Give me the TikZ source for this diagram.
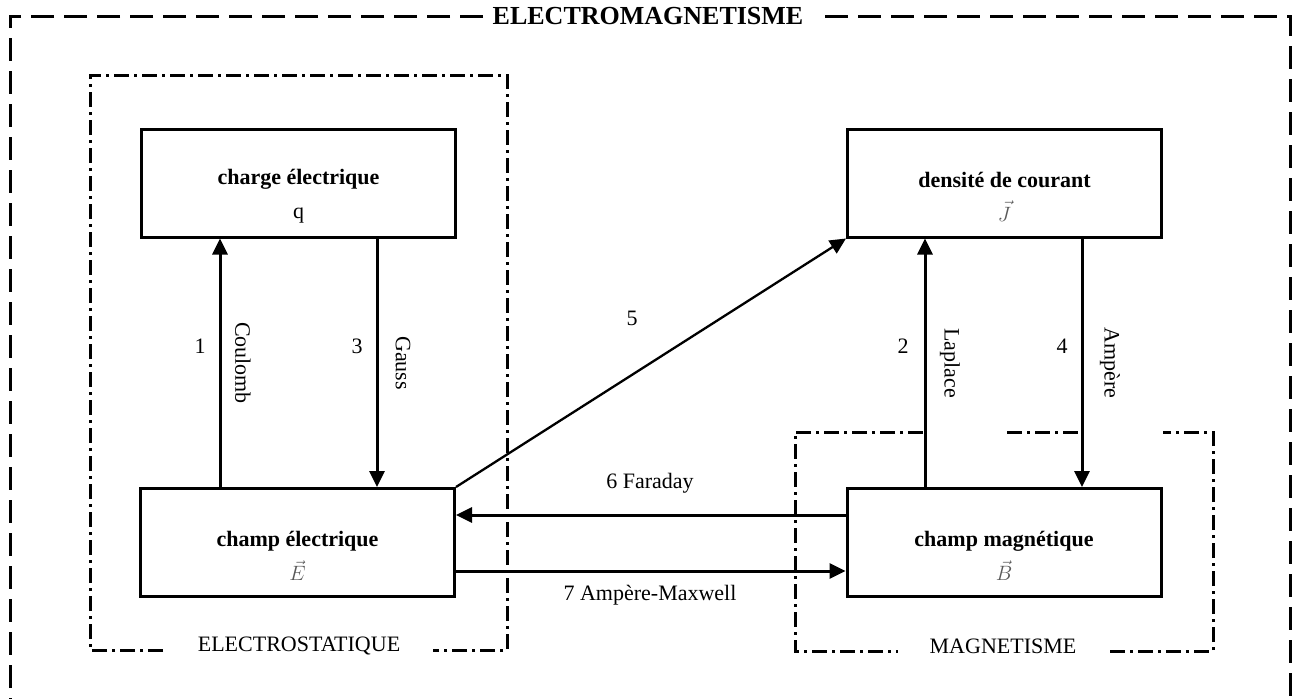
\documentclass[tikz,border=0pt]{standalone}
\usepackage{fontspec}
\setmainfont{Liberation Serif}
\usetikzlibrary{arrows.meta,calc}
\newcommand{\toppad}{\rule{0pt}{42pt}}
\begin{document}
\begin{tikzpicture}[x=1pt,y=-1pt,
  box/.style={draw,line width=3pt,minimum width=314pt,minimum height=108pt,align=center,
    font=\bfseries\fontsize{22}{30}\selectfont,inner sep=0pt},
  arr/.style={line width=3pt,-{Triangle[width=15pt,length=16pt]}},
  thinarr/.style={line width=2.3pt,-{Triangle[width=15pt,length=16pt]}},
  lbl/.style={font=\fontsize{22}{26}\selectfont,inner sep=0pt},
  ttl/.style={font=\bfseries\fontsize{26}{30}\selectfont,inner sep=0pt},
  dd/.style={line width=3pt,dash pattern=on 15pt off 5pt on 3pt off 5pt},
  dsh/.style={line width=3pt,dash pattern=on 23pt off 10pt}]
\useasboundingbox (0,0) rectangle (1299,699);
% outer frame
\node[ttl] (title) at (648,16) {ELECTROMAGNETISME};
\draw[dsh] (483,16) -- (10,16) -- (10,730);
\draw[dsh] (825,16) -- (1290,16) -- (1290,730);
% electrostatique frame
\draw[dd] (163,650) -- (90,650) -- (90,75) -- (507,75) -- (507,650) -- (433,650);
\node[lbl] (es) at (299,646) {ELECTROSTATIQUE};
% magnetisme frame
\draw[dd] (923,432) -- (795,432) -- (795,651) -- (898,651);
\draw[dd] (1110,651) -- (1213,651) -- (1213,432) -- (1163,432);
\draw[dd] (1007,432) -- (1082,432);
\node[lbl] (ms) at (1003,646) {MAGNETISME};
% boxes
\node[box] (q) at (298.5,183) {\toppad charge électrique\\[4pt]\mdseries q};
\node[box] (J) at (1004.5,183) {\toppad densité de courant\\[4pt]\mdseries\color{black!65}$\vec{J}$};
\node[box] (E) at (297.5,542.5) {\toppad champ électrique\\[4pt]\mdseries\color{black!65}$\vec{E}$};
\node[box] (B) at (1004,542.5) {\toppad champ magnétique\\[4pt]\mdseries\color{black!65}$\vec{B}$};
% connector x/y references
\coordinate (c1) at (220,0);
\coordinate (c3) at (377,0);
\coordinate (c2) at (925,0);
\coordinate (c4) at (1082,0);
\coordinate (r6) at (0,515);
\coordinate (r7) at (0,571);
% arrows
\draw[arr] (E.north -| c1) -- (q.south -| c1);
\draw[arr] (q.south -| c3) -- (E.north -| c3);
\draw[arr] (B.north -| c2) -- (J.south -| c2);
\draw[arr] (J.south -| c4) -- (B.north -| c4);
\draw[thinarr] (E.north east) -- (J.south west);
\draw[arr] (B.west |- r6) -- (E.east |- r6);
\draw[arr] (E.east |- r7) -- (B.west |- r7);
% labels
\node[lbl] (n1) at (200,346) {1};
\node[lbl,rotate=-90] (l1) at (243,363) {Coulomb};
\node[lbl] (n3) at (357,346) {3};
\node[lbl,rotate=-90] (l3) at (403,363) {Gauss};
\node[lbl] (n2) at (903,346) {2};
\node[lbl,rotate=-90] (l2) at (950,363) {Laplace};
\node[lbl] (n4) at (1062,346) {4};
\node[lbl,rotate=-90] (l4) at (1110,363) {Ampère};
\node[lbl] (n5) at (632,318) {5};
\node[lbl] (l6) at (650,483) {6 Faraday};
\node[lbl] (l7) at (650,595) {7 Ampère-Maxwell};
\end{tikzpicture}
\end{document}
